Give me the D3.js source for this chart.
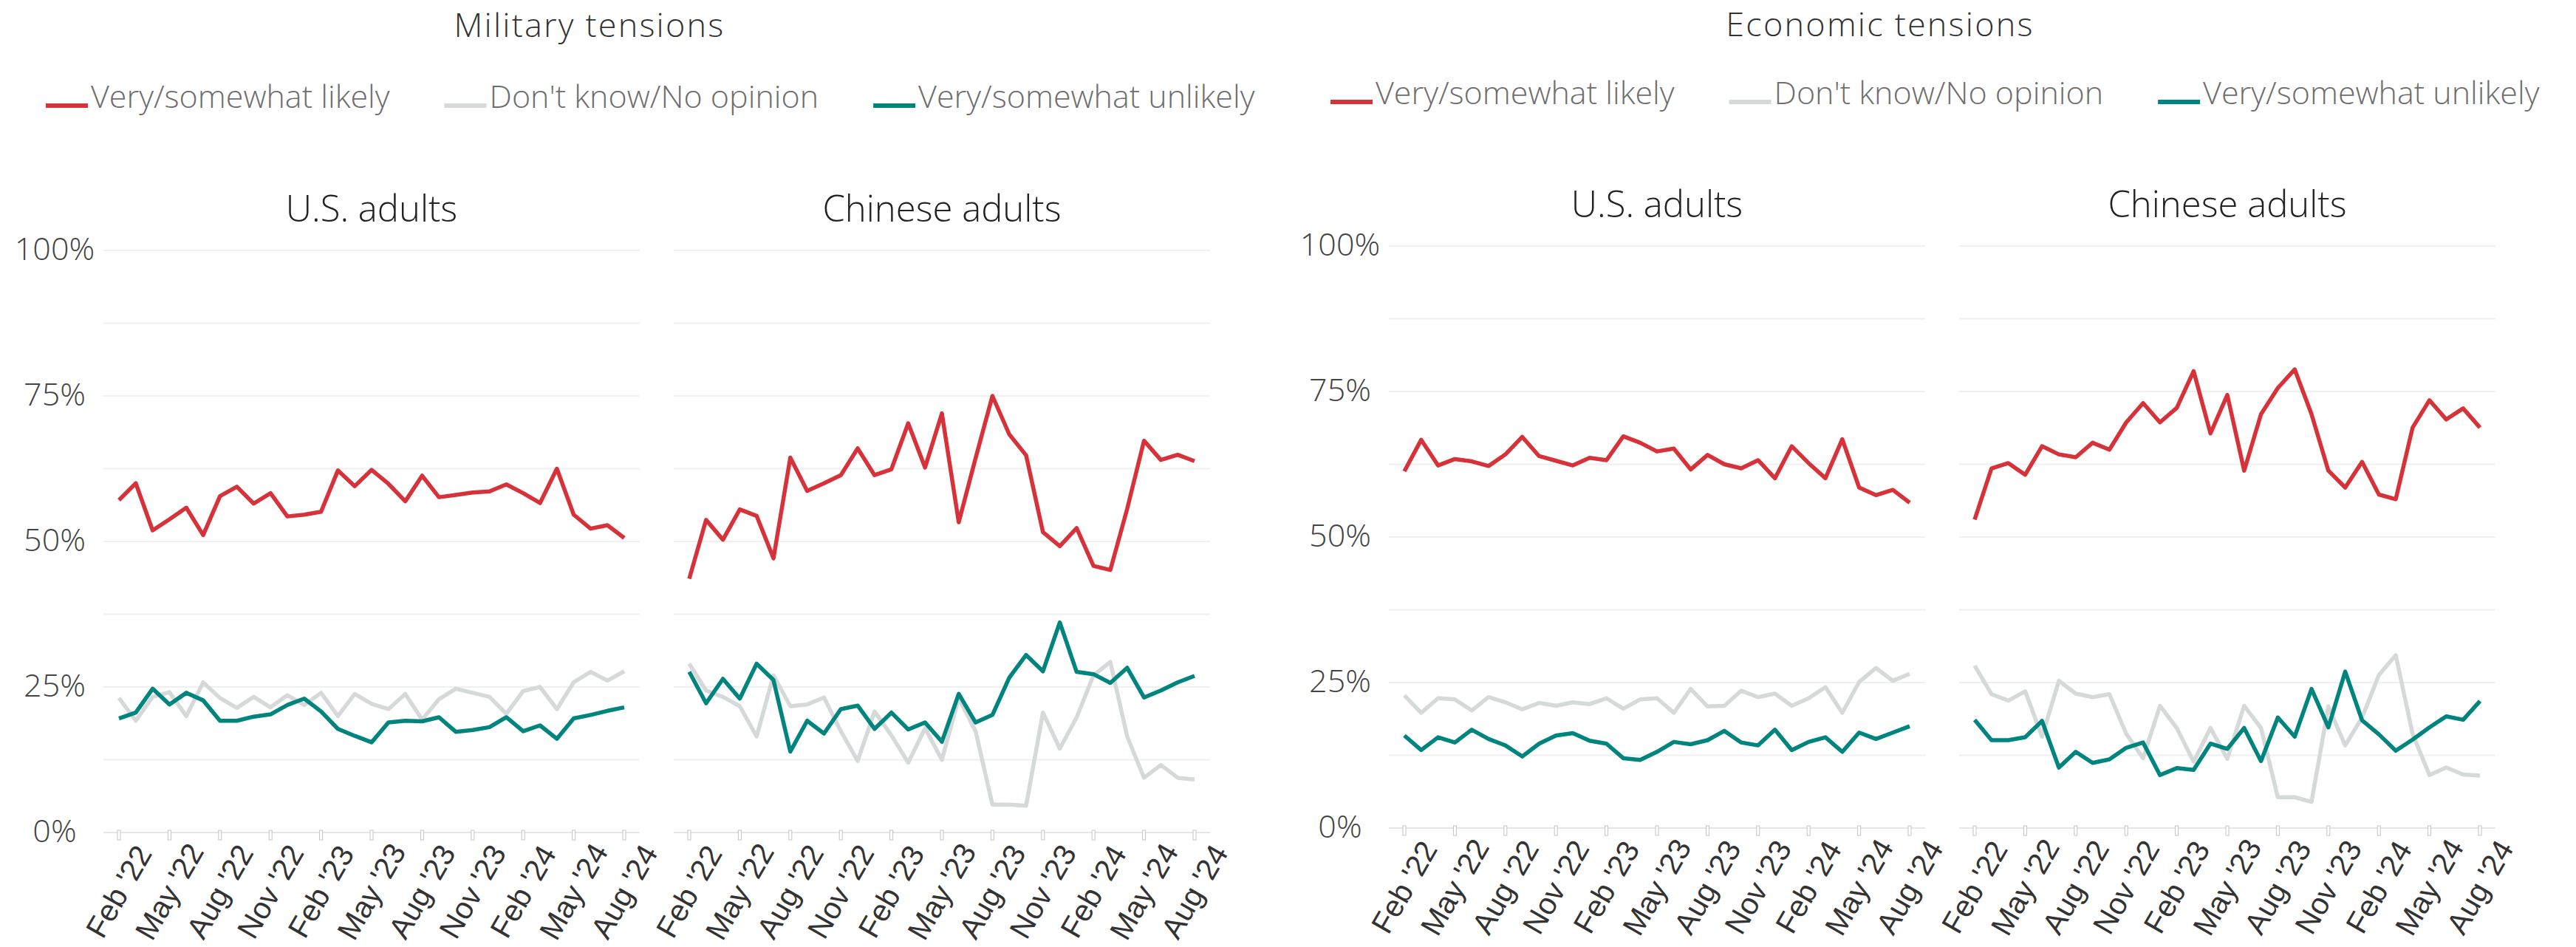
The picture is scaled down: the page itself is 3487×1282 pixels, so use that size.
<!DOCTYPE html>
<html lang="en">
<head>
<meta charset="utf-8">
<title>Military and economic tensions</title>
<script src="https://d3js.org/d3.v7.min.js"></script>
<style>
  body { margin: 0; background: #fff; }
  .txt { font-family: "Open Sans", "Noto Sans", sans-serif; font-weight: 300; }
  .tick-label { font-family: "Liberation Sans", Arial, sans-serif; font-size: 41px; fill: #333; }
</style>
</head>
<body>
<div id="chart"></div>
<script>

// ---- data ----
var months = ["2022-02","2022-03","2022-04","2022-05","2022-06","2022-07","2022-08","2022-09","2022-10","2022-11","2022-12",
              "2023-01","2023-02","2023-03","2023-04","2023-05","2023-06","2023-07","2023-08","2023-09","2023-10","2023-11","2023-12",
              "2024-01","2024-02","2024-03","2024-04","2024-05","2024-06","2024-07","2024-08"];

var tickMonths = ["2022-02","2022-05","2022-08","2022-11","2023-02","2023-05","2023-08","2023-11","2024-02","2024-05","2024-08"];
var tickLabels = ["Feb '22","May '22","Aug '22","Nov '22","Feb '23","May '23","Aug '23","Nov '23","Feb '24","May '24","Aug '24"];

var yTicks = [0, 25, 50, 75, 100];
var yGrid = [0, 12.5, 25, 37.5, 50, 62.5, 75, 87.5, 100];

var seriesNames = ["Very/somewhat likely", "Don't know/No opinion", "Very/somewhat unlikely"];
var seriesColors = ["#d7323a", "#d6d9da", "#00857e"];

var milUsLikely    = [57.1,60.0,51.9,53.8,55.8,51.1,57.8,59.4,56.5,58.3,54.3,54.6,55.1,62.2,59.5,62.3,59.9,56.9,61.3,57.6,58.0,58.4,58.6,59.8,58.3,56.6,62.5,54.6,52.2,52.8,50.6];
var milUsDk        = [23.1,19.2,23.3,24.1,20.0,25.8,23.1,21.4,23.3,21.5,23.6,21.9,24.0,20.0,23.8,22.1,21.2,23.8,19.4,22.9,24.7,24.0,23.3,20.4,24.3,25.0,21.2,25.8,27.6,26.1,27.7];
var milUsUnlikely  = [19.6,20.6,24.7,22.0,24.0,22.7,19.2,19.2,19.9,20.3,21.9,23.0,20.8,17.8,16.6,15.5,18.9,19.2,19.1,19.8,17.3,17.6,18.1,19.8,17.4,18.4,16.1,19.6,20.2,20.9,21.5];

var milCnLikely    = [43.6,53.7,50.3,55.5,54.4,47.1,64.4,58.7,60.0,61.4,66.0,61.4,62.4,70.3,62.7,72.0,53.3,64.3,75.0,68.4,64.8,51.6,49.2,52.3,45.8,45.1,55.6,67.3,64.0,64.9,63.8];
var milCnDk        = [29.0,24.4,23.3,21.7,16.5,27.0,21.7,22.0,23.2,17.4,12.3,20.8,16.7,12.0,17.9,12.5,23.1,17.4,4.8,4.8,4.6,20.6,14.4,19.8,27.0,29.3,16.5,9.4,11.6,9.4,9.1];
var milCnUnlikely  = [27.6,22.2,26.4,23.0,29.0,26.2,13.9,19.2,17.0,21.2,21.8,17.8,20.6,17.7,18.9,15.6,23.8,18.9,20.2,26.6,30.5,27.7,36.1,27.6,27.2,25.7,28.3,23.2,24.4,25.8,26.9];

var econUsLikely   = [61.3,66.7,62.3,63.4,63.0,62.2,64.2,67.2,63.9,63.1,62.3,63.6,63.2,67.3,66.2,64.7,65.2,61.6,64.1,62.5,61.8,63.2,60.1,65.6,62.7,60.1,66.8,58.5,57.2,58.1,55.9];
var econUsDk       = [22.8,19.8,22.3,22.1,20.2,22.5,21.6,20.4,21.5,21.0,21.6,21.3,22.3,20.5,22.1,22.3,19.8,23.9,20.9,21.0,23.6,22.5,23.1,21.0,22.3,24.2,19.8,25.1,27.5,25.3,26.5];
var econUsUnlikely = [15.9,13.4,15.6,14.7,16.9,15.3,14.2,12.3,14.5,15.9,16.3,15.0,14.5,12.0,11.7,13.1,14.8,14.4,15.1,16.7,14.7,14.2,16.9,13.4,14.8,15.6,13.1,16.4,15.3,16.4,17.5];

var econCnLikely   = [53.0,61.8,62.7,60.7,65.6,64.2,63.7,66.2,65.0,69.7,73.0,69.7,72.2,78.5,67.8,74.4,61.4,71.1,75.6,78.8,71.1,61.4,58.5,62.9,57.3,56.5,68.8,73.5,70.2,72.1,68.8];
var econCnDk       = [27.9,23.0,21.9,23.5,15.7,25.3,23.1,22.5,23.0,16.2,12.0,21.0,17.2,11.4,17.2,11.9,21.0,17.2,5.3,5.3,4.5,20.9,14.2,19.0,26.3,29.7,16.2,9.1,10.4,9.2,9.0];
var econCnUnlikely = [18.6,15.1,15.1,15.6,18.4,10.4,13.1,11.2,11.8,13.8,14.7,9.1,10.3,10.0,14.5,13.6,17.2,11.5,19.0,15.7,23.9,17.3,26.9,18.5,16.1,13.3,15.2,17.3,19.2,18.6,21.8];

// ---- layout ----
var width = 3487, height = 1282;
var panelW = 726, inset = 21;

var halves = [
  { title: "Military tensions", titleX: 798, titleY: 50, legendX: 62, legendY: 146,
    top: 339, bottom: 1127, panelTitleY: 300,
    panels: [ { name: "U.S. adults", x0: 140, series: [milUsLikely, milUsDk, milUsUnlikely] },
              { name: "Chinese adults", x0: 912, series: [milCnLikely, milCnDk, milCnUnlikely] } ] },
  { title: "Economic tensions", titleX: 2545, titleY: 49, legendX: 1801, legendY: 141,
    top: 333, bottom: 1121, panelTitleY: 294,
    panels: [ { name: "U.S. adults", x0: 1880, series: [econUsLikely, econUsDk, econUsUnlikely] },
              { name: "Chinese adults", x0: 2652, series: [econCnLikely, econCnDk, econCnUnlikely] } ] }
];

var svg = d3.select("#chart")
  .append("svg")
    .attr("width", width)
    .attr("height", height);

halves.forEach(function(h) {

  // section title
  svg.append("text")
    .attr("class", "txt")
    .attr("x", h.titleX)
    .attr("y", h.titleY)
    .attr("text-anchor", "middle")
    .style("font-size", "45px")
    .style("letter-spacing", "2.2px")
    .style("fill", "#333")
    .text(h.title);

  // legend
  var lx = h.legendX;
  seriesNames.forEach(function(name, i) {
    svg.append("rect")
      .attr("x", lx)
      .attr("y", h.legendY - 6)
      .attr("width", 57)
      .attr("height", 6)
      .attr("fill", seriesColors[i]);
    var t = svg.append("text")
      .attr("class", "txt")
      .attr("x", lx + 61)
      .attr("y", h.legendY)
      .style("font-size", "43px")
      .style("fill", "#6e6e6e")
      .text(name);
    lx = lx + 61 + t.node().getComputedTextLength() + 74;
  });

  var y = d3.scaleLinear()
    .domain([0, 100])
    .range([h.bottom, h.top]);

  h.panels.forEach(function(p, pi) {
    var x = d3.scalePoint()
      .domain(months)
      .range([p.x0 + inset, p.x0 + panelW - inset]);

    var g = svg.append("g");

    // gridlines
    g.selectAll(".grid")
      .data(yGrid)
      .enter()
      .append("line")
        .attr("x1", p.x0)
        .attr("x2", p.x0 + panelW)
        .attr("y1", function(d) { return y(d); })
        .attr("y2", function(d) { return y(d); })
        .attr("stroke", function(d) { return d === 0 ? "#e6e6e6" : "#f0f0f0"; })
        .attr("stroke-width", 2);

    // y labels only on left panel
    if (pi === 0) {
      g.selectAll(".ylab")
        .data(yTicks)
        .enter()
        .append("text")
          .attr("class", "txt")
          .attr("x", p.x0 - 66)
          .attr("y", function(d) { return y(d) - 2; })
          .attr("dy", "0.35em")
          .attr("text-anchor", "middle")
          .style("font-size", "43px")
          .style("fill", "#444")
          .text(function(d) { return d + "%"; });
    }

    // panel title
    g.append("text")
      .attr("class", "txt")
      .attr("x", p.x0 + panelW / 2)
      .attr("y", h.panelTitleY)
      .attr("text-anchor", "middle")
      .style("font-size", "49px")
      .style("fill", "#222")
      .text(p.name);

    // x ticks
    g.selectAll(".tick")
      .data(tickMonths)
      .enter()
      .append("rect")
        .attr("x", function(d) { return x(d) - 2; })
        .attr("y", h.bottom - 3)
        .attr("width", 4)
        .attr("height", 13)
        .attr("fill", "#fff")
        .attr("stroke", "#c4c4c4")
        .attr("stroke-width", 1);

    g.selectAll(".tick-label")
      .data(tickMonths)
      .enter()
      .append("text")
        .attr("class", "tick-label")
        .attr("text-anchor", "middle")
        .attr("dominant-baseline", "central")
        .attr("transform", function(d) {
          return "translate(" + x(d) + "," + (h.bottom + 80) + ") rotate(-60)";
        })
        .text(function(d, i) { return tickLabels[i]; });

    // lines
    var line = d3.line()
      .x(function(d, i) { return x(months[i]); })
      .y(function(d) { return y(d); });

    p.series.forEach(function(vals, si) {
      g.append("path")
        .datum(vals)
        .attr("fill", "none")
        .attr("stroke", seriesColors[si])
        .attr("stroke-width", 5.5)
        .attr("stroke-linejoin", "round")
        .attr("d", line);
    });
  });
});

</script>
</body>
</html>
